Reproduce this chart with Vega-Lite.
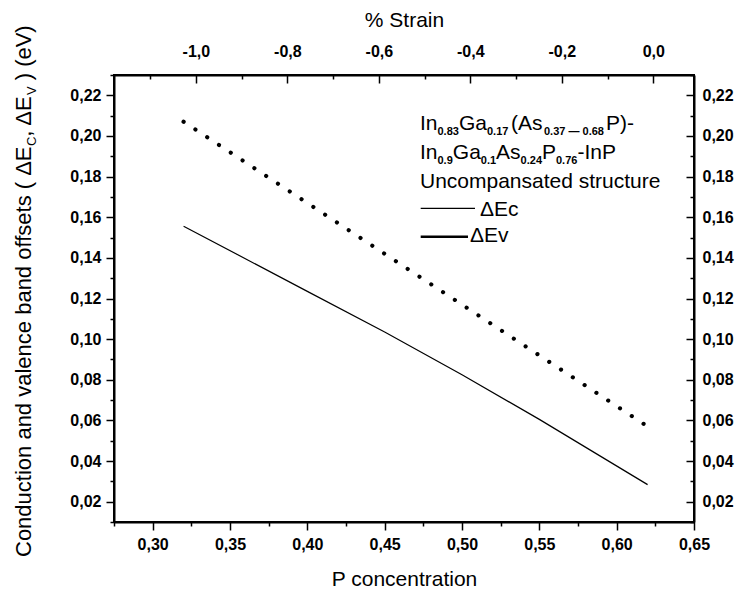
{
  "$schema": "https://vega.github.io/schema/vega-lite/v6.json",
  "width": 580,
  "height": 447,
  "autosize": "none",
  "padding": {"left": 114, "top": 75, "right": 44, "bottom": 72},
  "background": "white",
  "config": {
    "view": {"stroke": "black", "strokeWidth": 2},
    "axis": {
      "labelFont": "Liberation Sans", "labelFontSize": 16, "labelFontWeight": "bold", "labelColor": "black",
      "titleFont": "Liberation Sans", "titleFontSize": 21, "titleFontWeight": "normal", "titleColor": "black",
      "domainColor": "black", "domainWidth": 2, "tickColor": "black", "tickWidth": 1.5, "grid": false,
      "labelFlush": false, "labelOverlap": false
    },
    "text": {"font": "Liberation Sans", "color": "black"}
  },
  "datasets": {
    "curves": [
      {"P": 0.32, "E": 0.1556, "s": "Ec"},
      {"P": 0.40, "E": 0.1235, "s": "Ec"},
      {"P": 0.45, "E": 0.1035, "s": "Ec"},
      {"P": 0.50, "E": 0.0825, "s": "Ec"},
      {"P": 0.55, "E": 0.0605, "s": "Ec"},
      {"P": 0.62, "E": 0.0284, "s": "Ec"},
      {"P": 0.32, "E": 0.207, "s": "Ev"},
      {"P": 0.47, "E": 0.132, "s": "Ev"},
      {"P": 0.62, "E": 0.057, "s": "Ev"}
    ],
    "strain": [{"S": -1.0}, {"S": 0.0}],
    "legendLines": [
      {"P1": 0.47329, "P2": 0.50840, "E": 0.1644, "k": "Ec"},
      {"P1": 0.47329, "P2": 0.50388, "E": 0.1504, "k": "Ev"}
    ],
    "legendMain": [
      {"t": "In", "P": 0.47284, "E": 0.2029},
      {"t": "Ga", "P": 0.49806, "E": 0.2029},
      {"t": "(As", "P": 0.53168, "E": 0.2029},
      {"t": "P)-", "P": 0.59310, "E": 0.2029},
      {"t": "In", "P": 0.47284, "E": 0.1885},
      {"t": "Ga", "P": 0.49405, "E": 0.1885},
      {"t": "As", "P": 0.52205, "E": 0.1885},
      {"t": "P", "P": 0.55173, "E": 0.1885},
      {"t": "-InP", "P": 0.57461, "E": 0.1885},
      {"t": "Uncompansated structure", "P": 0.47284, "E": 0.1742},
      {"t": "ΔEc", "P": 0.51163, "E": 0.1608},
      {"t": "ΔEv", "P": 0.50517, "E": 0.1480}
    ],
    "legendSub": [
      {"t": "0.83", "P": 0.48416, "E": 0.2029},
      {"t": "0.17", "P": 0.51616, "E": 0.2029},
      {"t": "0.37 — 0.68", "P": 0.55302, "E": 0.2029},
      {"t": "0.9", "P": 0.48416, "E": 0.1885},
      {"t": "0.1", "P": 0.51215, "E": 0.1885},
      {"t": "0.24", "P": 0.53789, "E": 0.1885},
      {"t": "0.76", "P": 0.56078, "E": 0.1885}
    ],
    "ytitleMain": [
      {"t": "Conduction and valence band offsets ( ΔE", "P": 0.2213, "E": -0.00723},
      {"t": ", ΔE", "P": 0.2213, "E": 0.19963},
      {"t": ") (eV)", "P": 0.2213, "E": 0.22739}
    ],
    "ytitleSub": [
      {"t": "C", "P": 0.2213, "E": 0.19501},
      {"t": "V", "P": 0.2213, "E": 0.22011}
    ]
  },
  "resolve": {"scale": {"x": "independent"}, "axis": {"y": "independent"}},
  "layer": [
    {
      "data": {"name": "curves"},
      "transform": [{"filter": "datum.s === 'Ec'"}],
      "mark": {"type": "line", "color": "black", "strokeWidth": 1.2},
      "encoding": {
        "x": {"field": "P", "type": "quantitative",
          "scale": {"domain": [0.275, 0.65], "nice": false, "zero": false},
          "axis": {
            "orient": "bottom", "title": "P concentration", "titlePadding": 16,
            "values": [0.275, 0.3, 0.325, 0.35, 0.375, 0.4, 0.425, 0.45, 0.475, 0.5, 0.525, 0.55, 0.575, 0.6, 0.625, 0.65],
            "labelExpr": "round(datum.value*1000) % 50 == 0 ? replace(format(datum.value, '.2f'), '.', ',') : ''",
            "tickSize": {"condition": {"test": "round(datum.value*1000) % 50 == 0", "value": 8}, "value": 4},
            "labelPadding": 6
          }},
        "y": {"field": "E", "type": "quantitative",
          "scale": {"domain": [0.01, 0.23], "nice": false, "zero": false},
          "axis": {
            "orient": "left", "title": null,
            "values": [0.01, 0.02, 0.03, 0.04, 0.05, 0.06, 0.07, 0.08, 0.09, 0.1, 0.11, 0.12, 0.13, 0.14, 0.15, 0.16, 0.17, 0.18, 0.19, 0.2, 0.21, 0.22, 0.23],
            "labelExpr": "round(datum.value*100) % 2 == 0 ? replace(format(datum.value, '.2f'), '.', ',') : ''",
            "tickSize": {"condition": {"test": "round(datum.value*100) % 2 == 0", "value": 8}, "value": 4},
            "labelPadding": 5
          }}
      }
    },
    {
      "data": {"name": "curves"},
      "transform": [{"filter": "datum.s === 'Ev'"}],
      "mark": {"type": "line", "color": "black", "strokeWidth": 4.2, "strokeDash": [0.01, 14.1], "strokeCap": "round"},
      "encoding": {
        "x": {"field": "P", "type": "quantitative",
          "scale": {"domain": [0.275, 0.65], "nice": false, "zero": false}, "axis": null},
        "y": {"field": "E", "type": "quantitative",
          "scale": {"domain": [0.01, 0.23], "nice": false, "zero": false},
          "axis": {
            "orient": "right", "title": null,
            "values": [0.01, 0.02, 0.03, 0.04, 0.05, 0.06, 0.07, 0.08, 0.09, 0.1, 0.11, 0.12, 0.13, 0.14, 0.15, 0.16, 0.17, 0.18, 0.19, 0.2, 0.21, 0.22, 0.23],
            "labelExpr": "round(datum.value*100) % 2 == 0 ? replace(format(datum.value, '.2f'), '.', ',') : ''",
            "tickSize": {"condition": {"test": "round(datum.value*100) % 2 == 0", "value": -8}, "value": -4},
            "labelPadding": 16
          }}
      }
    },
    {
      "data": {"name": "strain"},
      "mark": {"type": "point", "opacity": 0},
      "encoding": {
        "x": {"field": "S", "type": "quantitative",
          "scale": {"domain": [-1.179, 0.089], "nice": false, "zero": false},
          "axis": {
            "orient": "top", "title": "% Strain", "titlePadding": 9,
            "values": [-1.1, -1.0, -0.9, -0.8, -0.7, -0.6, -0.5, -0.4, -0.3, -0.2, -0.1, 0.0],
            "labelExpr": "round(datum.value*10) % 2 == 0 ? replace(replace(format(datum.value, '.1f'), '.', ','), '−', '-') : ''",
            "tickSize": {"condition": {"test": "round(datum.value*10) % 2 == 0", "value": -8}, "value": -4},
            "labelPadding": 24
          }}
      }
    },
    {
      "data": {"name": "legendLines"},
      "transform": [{"filter": "datum.k === 'Ec'"}],
      "mark": {"type": "rule", "color": "black", "strokeWidth": 1.2},
      "encoding": {
        "x": {"field": "P1", "type": "quantitative", "scale": {"domain": [0.275, 0.65], "nice": false, "zero": false}, "axis": null},
        "x2": {"field": "P2"},
        "y": {"field": "E", "type": "quantitative", "scale": {"domain": [0.01, 0.23], "nice": false, "zero": false}, "axis": null}
      }
    },
    {
      "data": {"name": "legendLines"},
      "transform": [{"filter": "datum.k === 'Ev'"}],
      "mark": {"type": "rule", "color": "black", "strokeWidth": 2.6},
      "encoding": {
        "x": {"field": "P1", "type": "quantitative", "scale": {"domain": [0.275, 0.65], "nice": false, "zero": false}, "axis": null},
        "x2": {"field": "P2"},
        "y": {"field": "E", "type": "quantitative", "scale": {"domain": [0.01, 0.23], "nice": false, "zero": false}, "axis": null}
      }
    },
    {
      "data": {"name": "legendMain"},
      "mark": {"type": "text", "align": "left", "baseline": "alphabetic", "fontSize": 21},
      "encoding": {
        "x": {"field": "P", "type": "quantitative", "scale": {"domain": [0.275, 0.65], "nice": false, "zero": false}, "axis": null},
        "y": {"field": "E", "type": "quantitative", "scale": {"domain": [0.01, 0.23], "nice": false, "zero": false}, "axis": null},
        "text": {"field": "t"}
      }
    },
    {
      "data": {"name": "legendSub"},
      "mark": {"type": "text", "align": "left", "baseline": "alphabetic", "fontSize": 11, "fontWeight": "bold", "dy": 5},
      "encoding": {
        "x": {"field": "P", "type": "quantitative", "scale": {"domain": [0.275, 0.65], "nice": false, "zero": false}, "axis": null},
        "y": {"field": "E", "type": "quantitative", "scale": {"domain": [0.01, 0.23], "nice": false, "zero": false}, "axis": null},
        "text": {"field": "t"}
      }
    },
    {
      "data": {"name": "ytitleMain"},
      "mark": {"type": "text", "align": "left", "baseline": "alphabetic", "fontSize": 22, "angle": 270},
      "encoding": {
        "x": {"field": "P", "type": "quantitative", "scale": {"domain": [0.275, 0.65], "nice": false, "zero": false}, "axis": null},
        "y": {"field": "E", "type": "quantitative", "scale": {"domain": [0.01, 0.23], "nice": false, "zero": false}, "axis": null},
        "text": {"field": "t"}
      }
    },
    {
      "data": {"name": "ytitleSub"},
      "mark": {"type": "text", "align": "left", "baseline": "alphabetic", "fontSize": 13, "angle": 270, "dy": 5},
      "encoding": {
        "x": {"field": "P", "type": "quantitative", "scale": {"domain": [0.275, 0.65], "nice": false, "zero": false}, "axis": null},
        "y": {"field": "E", "type": "quantitative", "scale": {"domain": [0.01, 0.23], "nice": false, "zero": false}, "axis": null},
        "text": {"field": "t"}
      }
    }
  ]
}
